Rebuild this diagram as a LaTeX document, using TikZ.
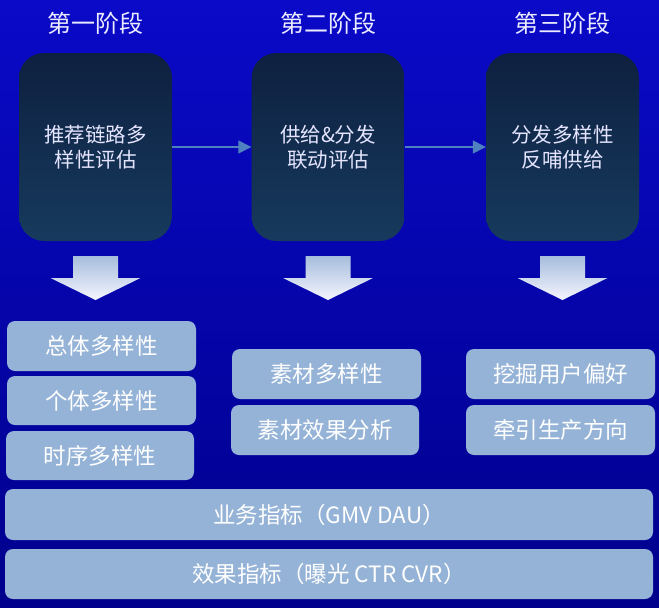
\documentclass[tikz,border=0pt]{standalone}
\usepackage{fontspec}
\setmainfont{Noto Sans CJK SC}
\usetikzlibrary{arrows.meta}

\definecolor{fondoarriba}{HTML}{0A0AC8}
\definecolor{fondoabajo}{HTML}{00008C}
\definecolor{cajaosc}{HTML}{0E2040}
\definecolor{cajaoscb}{HTML}{163A5D}
\definecolor{cajaclara}{HTML}{95B3D7}
\definecolor{flechaazul}{HTML}{4F80C0}
\definecolor{flechaarriba}{HTML}{A6BDDC}

\tikzset{
    titulo/.style={text=white!92!blue, font=\fontsize{24}{28}\selectfont},
    etapa/.style={rounded corners=25pt, top color=cajaosc, bottom color=cajaoscb,
        minimum width=153pt, minimum height=188pt, align=center,
        text=white!90!blue, font=\fontsize{20.5}{25}\selectfont},
    item/.style={rounded corners=8pt, fill=cajaclara, minimum height=50pt,
        text=white, font=\fontsize{22.5}{26}\selectfont},
    enlace/.style={flechaazul, line width=1.3pt, -{Triangle[length=13pt,width=13pt]}},
}

\begin{document}
\begin{tikzpicture}[x=1pt, y=-1pt]
    \useasboundingbox (0,0) rectangle (659,608);

    % Fondo degradado.
    \shade[top color=fondoarriba, bottom color=fondoabajo] (0,0) rectangle (659,608);

    % Títulos de cada etapa.
    \node[titulo] (t1) at (95.5,23) {第一阶段};
    \node[titulo] (t2) at (328,23) {第二阶段};
    \node[titulo] (t3) at (562.5,23) {第三阶段};

    % Cajas oscuras de las etapas.
    \node[etapa] (e1) at (95.5,147) {推荐链路多\\样性评估};
    \node[etapa] (e2) at (328,147) {供给\&分发\\联动评估};
    \node[etapa] (e3) at (562.5,147) {分发多样性\\反哺供给};

    \draw[enlace] (e1) -- (e2);
    \draw[enlace] (e2) -- (e3);

    % Flechas anchas hacia abajo.
    \foreach \cx in {95.5,328,562.5}
        \shade[top color=flechaarriba, bottom color=white!96!blue]
            (\cx-22.5,256) -- (\cx+22.5,256) -- (\cx+22.5,278) -- (\cx+45,278)
            -- (\cx,300) -- (\cx-45,278) -- (\cx-22.5,278) -- cycle;

    % Primera columna.
    \node[item, minimum width=189pt] (a1) at (101.5,346) {总体多样性};
    \node[item, minimum width=189pt, minimum height=49pt] (a2) at (101.5,400.5) {个体多样性};
    \node[item, minimum width=188pt, minimum height=49pt] (a3) at (100,455.5) {时序多样性};

    % Segunda columna.
    \node[item, minimum width=189pt] (b1) at (326.5,374) {素材多样性};
    \node[item, minimum width=188pt] (b2) at (325,430) {素材效果分析};

    % Tercera columna.
    \node[item, minimum width=189pt] (c1) at (560.5,374) {挖掘用户偏好};
    \node[item, minimum width=189pt] (c2) at (560.5,430) {牵引生产方向};

    % Franjas inferiores.
    \node[item, minimum width=648pt, minimum height=51pt] (m1) at (329,514.5) {业务指标（GMV DAU）};
    \node[item, minimum width=648pt] (m2) at (329,574) {效果指标（曝光 CTR CVR）};
\end{tikzpicture}
\end{document}
